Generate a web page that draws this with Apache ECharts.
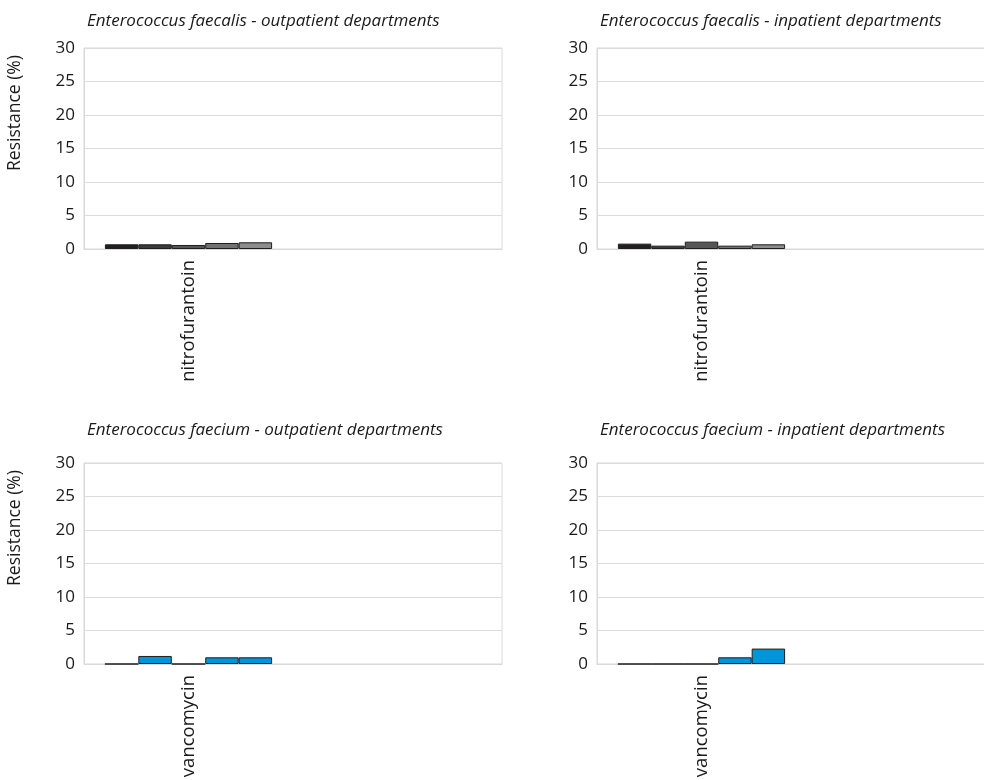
<!DOCTYPE html>
<html><head><meta charset="utf-8">
<script src="https://cdn.jsdelivr.net/npm/echarts@6/dist/echarts.min.js"></script>
<style>html,body{margin:0;padding:0;background:#fff}#c{width:984px;height:780px}</style>
</head><body><div id="c"></div>
<script>
const titles = [
  'Enterococcus faecalis - outpatient departments',
  'Enterococcus faecalis - inpatient departments',
  'Enterococcus faecium - outpatient departments',
  'Enterococcus faecium - inpatient departments'
];
const categoriesTop = ['nitrofurantoin', ''];
const categoriesBottom = ['vancomycin', ''];
const seriesNames = ['Y1', 'Y2', 'Y3', 'Y4', 'Y5'];
const yAxisName = 'Resistance (%)';
// values per series (one value per panel, first category)
const faecalisOut = [0.7, 0.7, 0.6, 0.9, 1.0];
const faecalisIn  = [0.8, 0.5, 1.1, 0.5, 0.7];
const faeciumOut  = [0.0, 1.2, 0.0, 1.0, 1.0];
const faeciumIn   = [0.0, 0.0, 0.0, 1.0, 2.3];
const grayColors = ['#231f20', '#3b3b3b', '#565656', '#717171', '#8d8d8d'];
const blueColor = '#0095d9';
const blueColors = [blueColor, blueColor, blueColor, blueColor, blueColor];

const panels = [
  {vals: faecalisOut, cats: categoriesTop, colors: grayColors, left: 84, top: 48, titleTop: 13, yName: true},
  {vals: faecalisIn, cats: categoriesTop, colors: grayColors, left: 597, top: 48, titleTop: 13, yName: false},
  {vals: faeciumOut, cats: categoriesBottom, colors: blueColors, left: 84, top: 463, titleTop: 422, yName: true},
  {vals: faeciumIn, cats: categoriesBottom, colors: blueColors, left: 597, top: 463, titleTop: 422, yName: false}
];

const font = 'Open Sans';
const txt = '#1a1a1a';
const option = {
  animation: false,
  title: [], grid: [], xAxis: [], yAxis: [], series: [], graphic: []
};
panels.forEach((p, i) => {
  option.title.push({
    text: titles[i], left: p.left + 3, top: p.titleTop, padding: 0,
    textStyle: {fontFamily: font, fontStyle: 'italic', fontWeight: 'normal', fontSize: 17, color: txt}
  });
  option.grid.push({left: p.left, top: p.top, width: 418, height: 201, show: true,
    borderColor: '#d9d9d9', borderWidth: 1, containLabel: false, outerBoundsMode: 'none'});
  option.xAxis.push({
    type: 'category', gridIndex: i, data: p.cats,
    axisTick: {show: false},
    axisLine: {show: true, lineStyle: {color: '#d9d9d9'}},
    axisLabel: {rotate: 90, margin: 11, fontFamily: font, fontSize: 18.5, color: txt}
  });
  option.yAxis.push({
    type: 'value', gridIndex: i, min: 0, max: 30, interval: 5,
    axisLine: {show: true, lineStyle: {color: '#d9d9d9'}},
    axisTick: {show: false},
    splitLine: {lineStyle: {color: '#dcdcdc'}},
    axisLabel: {margin: 9, fontFamily: font, fontSize: 17, color: txt}
  });
  if (p.yName) {
    option.graphic.push({
      type: 'text', x: 15, y: p.top + 65, rotation: Math.PI / 2,
      style: {text: yAxisName, fontFamily: font, fontSize: 17.5, fill: txt, align: 'center', verticalAlign: 'middle'}
    });
  }
  p.vals.forEach((v, k) => {
    option.series.push({
      type: 'bar', name: seriesNames[k], xAxisIndex: i, yAxisIndex: i,
      data: [v, null], barGap: 0, barCategoryGap: '20%',
      itemStyle: {color: p.colors[k], borderColor: '#1f1f1f', borderWidth: 1}
    });
  });
});
const chart = echarts.init(document.getElementById('c'), null, {renderer: 'canvas'});
chart.setOption(option);
</script></body></html>
